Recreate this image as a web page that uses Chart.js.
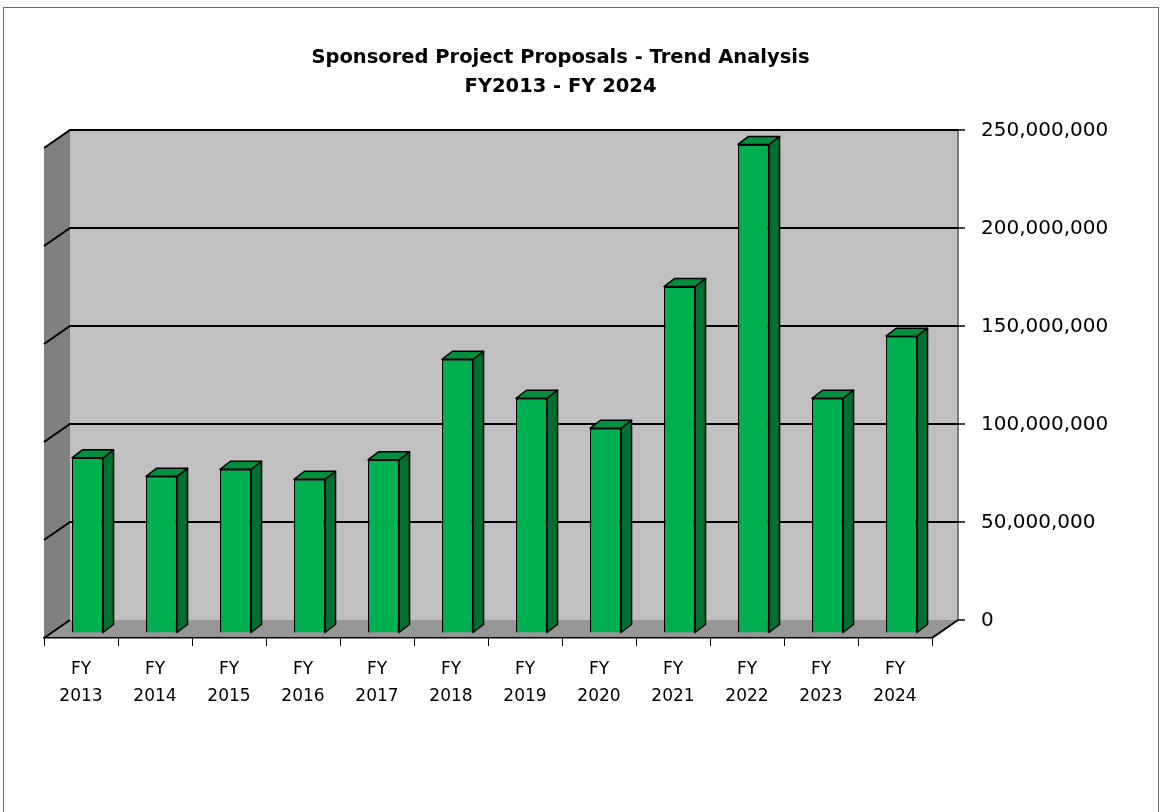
<!DOCTYPE html>
<html lang="en">
<head>
    <meta charset="UTF-8">
    <title>Sponsored Project Proposals - Trend Analysis</title>
    <script src="https://cdn.jsdelivr.net/npm/chart.js"></script>
    <style>
        body { margin: 0; background: #fff; }
        #chart { display: block; }
    </style>
</head>
<body>
    <canvas id="chart" width="1161" height="812"></canvas>
    <script>
        // Datos del grafico
        const years = ['2013', '2014', '2015', '2016', '2017', '2018', '2019', '2020', '2021', '2022', '2023', '2024'];
        const proposals = [89100000, 79700000, 83300000, 78200000, 88100000, 139400000, 119500000, 104200000, 176500000, 249000000, 119500000, 151200000];
        const yTicks = [0, 50000000, 100000000, 150000000, 200000000, 250000000];

        const labels = years.map(y => ['FY', y]);

        // profundidad del "3D"
        const DX = 26, DY = 18;          // pared del fondo
        const BAR_SX = 6.5, BAR_SY = -5.5; // plano frontal de las barras
        const BDX = 10.5, BDY = 8;       // grosor de las barras

        const wall3d = {
            id: 'wall3d',
            beforeDraw(chart) {
                const ctx = chart.ctx;
                const a = chart.chartArea;
                const y = chart.scales.y;
                const L = a.left, R = a.right, T = a.top, B = a.bottom;

                ctx.save();
                ctx.fillStyle = '#fff';
                ctx.fillRect(0, 0, chart.width, chart.height);

                // borde exterior
                ctx.strokeStyle = '#6b6b6b';
                ctx.lineWidth = 1;
                ctx.strokeRect(3.5, 7.5, 1155, 830);

                // pared del fondo
                ctx.fillStyle = '#c0c0c0';
                ctx.fillRect(L + DX, T - DY, R - L, B - T);

                // pared izquierda
                ctx.fillStyle = '#808080';
                ctx.beginPath();
                ctx.moveTo(L, T);
                ctx.lineTo(L + DX, T - DY);
                ctx.lineTo(L + DX, B - DY);
                ctx.lineTo(L, B);
                ctx.closePath();
                ctx.fill();

                // piso
                ctx.fillStyle = '#969696';
                ctx.beginPath();
                ctx.moveTo(L, B);
                ctx.lineTo(L + DX, B - DY);
                ctx.lineTo(R + DX, B - DY);
                ctx.lineTo(R, B);
                ctx.closePath();
                ctx.fill();

                // borde derecho de la pared
                ctx.strokeStyle = '#7a7a7a';
                ctx.lineWidth = 2;
                ctx.beginPath();
                ctx.moveTo(R + DX, T - DY);
                ctx.lineTo(R + DX, B - DY);
                ctx.stroke();

                // lineas de cuadricula y etiquetas del eje derecho
                ctx.font = '20px "DejaVu Sans"';
                ctx.textBaseline = 'middle';
                ctx.textAlign = 'left';
                yTicks.forEach(v => {
                    const yf = y.getPixelForValue(v);
                    const yb = yf - DY;
                    ctx.strokeStyle = '#000';
                    ctx.lineWidth = 2;
                    ctx.beginPath();
                    ctx.moveTo(L, yf);
                    ctx.lineTo(L + DX, yb);
                    if (v !== 0) ctx.lineTo(R + DX, yb);
                    ctx.stroke();

                    ctx.lineWidth = 1.5;
                    ctx.beginPath();
                    ctx.moveTo(R + DX, yb);
                    ctx.lineTo(R + DX + 7, yb);
                    ctx.stroke();

                    ctx.fillStyle = '#000';
                    ctx.fillText(v.toLocaleString('en-US'), R + DX + 23, yb + 1);
                });

                // borde derecho del piso
                ctx.lineWidth = 2;
                ctx.beginPath();
                ctx.moveTo(R, B);
                ctx.lineTo(R + DX, B - DY);
                ctx.stroke();
                ctx.restore();
            },
            beforeDatasetsDraw(chart) {
                chart.ctx.save();
                chart.ctx.translate(BAR_SX, BAR_SY);
            },
            afterDatasetsDraw(chart) {
                const ctx = chart.ctx;
                ctx.restore();
                ctx.save();
                ctx.strokeStyle = '#000';
                ctx.lineWidth = 1.5;
                ctx.lineJoin = 'round';
                chart.getDatasetMeta(0).data.forEach(bar => {
                    const x0 = bar.x - bar.width / 2 + BAR_SX;
                    const x1 = bar.x + bar.width / 2 + BAR_SX;
                    const yt = bar.y + BAR_SY;
                    const yb = bar.base + BAR_SY;
                    // lado
                    ctx.fillStyle = '#006f31';
                    ctx.beginPath();
                    ctx.moveTo(x1, yt);
                    ctx.lineTo(x1 + BDX, yt - BDY);
                    ctx.lineTo(x1 + BDX, yb - BDY);
                    ctx.lineTo(x1, yb);
                    ctx.closePath();
                    ctx.fill();
                    ctx.stroke();
                    // tapa
                    ctx.fillStyle = '#008f3e';
                    ctx.beginPath();
                    ctx.moveTo(x0, yt);
                    ctx.lineTo(x0 + BDX, yt - BDY);
                    ctx.lineTo(x1 + BDX, yt - BDY);
                    ctx.lineTo(x1, yt);
                    ctx.closePath();
                    ctx.fill();
                    ctx.stroke();
                });
                ctx.restore();
            }
        };

        new Chart(document.getElementById('chart'), {
            type: 'bar',
            data: {
                labels: labels,
                datasets: [{
                    data: proposals,
                    backgroundColor: '#00b050',
                    borderColor: '#000',
                    borderWidth: 1.5,
                    categoryPercentage: 1,
                    barPercentage: 0.42,
                    clip: false
                }]
            },
            options: {
                responsive: false,
                animation: false,
                devicePixelRatio: 1,
                layout: { padding: { left: 44, right: 84, top: 0, bottom: 0 } },
                plugins: {
                    legend: { display: false },
                    tooltip: { enabled: false },
                    title: {
                        display: true,
                        text: ['Sponsored Project Proposals - Trend Analysis', 'FY2013 - FY 2024'],
                        color: '#000',
                        font: { family: 'DejaVu Sans', size: 19.5, weight: 'bold', lineHeight: 1.487 },
                        padding: { top: 43.5, bottom: 46.5 }
                    }
                },
                scales: {
                    x: {
                        offset: true,
                        grid: { drawOnChartArea: false, drawTicks: true, tickLength: 8, color: '#000', lineWidth: 1 },
                        border: { display: true, color: '#000', width: 1.5 },
                        ticks: {
                            color: '#000',
                            font: { family: 'DejaVu Sans', size: 17, lineHeight: 1.6 },
                            padding: 10,
                            maxRotation: 0,
                            autoSkip: false
                        },
                        afterFit(scale) { scale.height = 174; }
                    },
                    y: {
                        position: 'right',
                        min: 0,
                        max: 250000000,
                        grid: { display: false },
                        border: { display: false },
                        ticks: { display: false },
                        // espacio reservado para las etiquetas dibujadas sobre la pared del fondo
                        afterFit(scale) { scale.width = 145; }
                    }
                }
            },
            plugins: [wall3d]
        });
    </script>
</body>
</html>
